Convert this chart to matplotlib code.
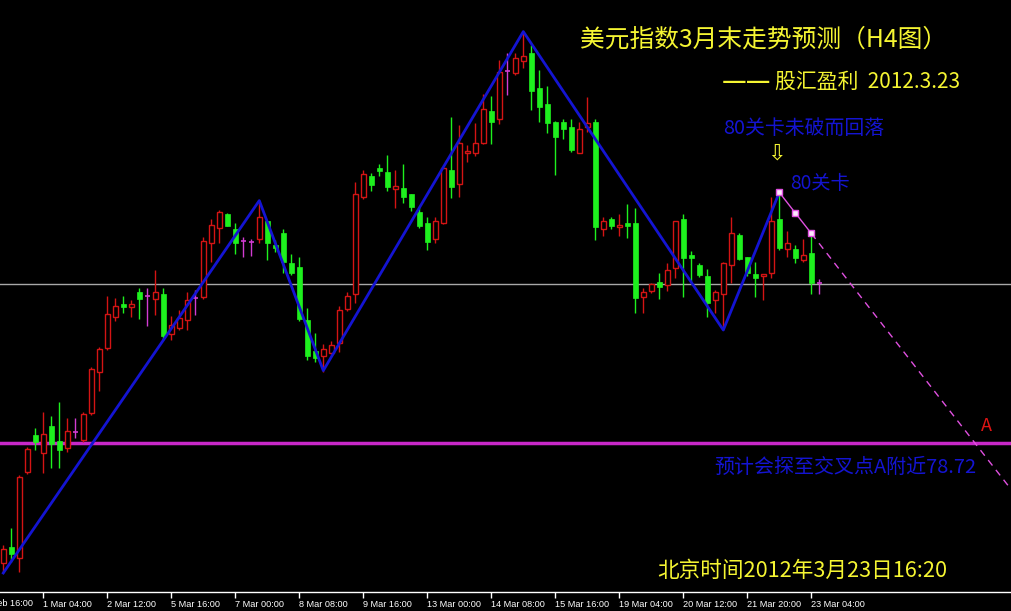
import numpy as np
import matplotlib
matplotlib.use("Agg")
import matplotlib.pyplot as plt

plt.rcParams['font.family'] = ['Noto Sans CJK SC', 'DejaVu Sans']

# H4 bars of the dollar index, oldest first (open, high, low, close)
opens = [78.135, 78.217, 78.16, 78.588, 78.775, 78.683, 78.82, 78.745, 78.71, 78.79,
         78.75, 78.887, 79.09, 79.21, 79.367, 79.43, 79.417, 79.49, 79.469, 79.457,
         79.48, 79.28, 79.31, 79.348, 79.458, 79.463, 79.733, 79.812, 79.88, 79.805,
         79.743, 79.738, 79.753, 79.843, 79.724, 79.783, 79.633, 79.613, 79.35, 79.195,
         79.172, 79.183, 79.233, 79.407, 79.48, 79.967, 80.07, 80.11, 80.09, 80.007,
         80.008, 79.98, 79.89, 79.837, 79.753, 79.833, 80.10, 80.028, 80.183, 80.183,
         80.237, 80.397, 80.353, 80.597, 80.583, 80.647, 80.683, 80.508, 80.43, 80.342,
         80.342, 80.313, 80.187, 80.313, 80.342, 79.803, 79.855, 79.813, 79.833, 79.833,
         79.467, 79.497, 79.542, 79.525, 79.612, 79.853, 79.675, 79.625, 79.57, 79.45,
         79.478, 79.625, 79.775, 79.663, 79.58, 79.57, 79.583, 79.855, 79.703, 79.703,
         79.65, 79.683, 79.533]
highs = [78.225, 78.31, 78.575, 78.717, 78.81, 78.888, 78.87, 78.94, 78.86, 78.86,
         78.89, 79.115, 79.217, 79.47, 79.458, 79.47, 79.45, 79.51, 79.51, 79.60,
         79.51, 79.37, 79.40, 79.49, 79.50, 79.767, 79.853, 79.90, 79.885, 79.837,
         79.763, 79.753, 79.947, 79.845, 79.75, 79.803, 79.68, 79.663, 79.408, 79.283,
         79.228, 79.247, 79.42, 79.49, 80.04, 80.10, 80.083, 80.13, 80.175, 80.10,
         80.13, 79.98, 79.917, 79.867, 79.863, 80.11, 80.363, 80.323, 80.223, 80.333,
         80.48, 80.47, 80.65, 80.687, 80.683, 80.792, 80.725, 80.60, 80.52, 80.345,
         80.353, 80.353, 80.342, 80.467, 80.353, 79.863, 79.867, 79.88, 79.93, 79.908,
         79.508, 79.537, 79.583, 79.637, 79.845, 79.88, 79.695, 79.633, 79.603, 79.50,
         79.642, 79.867, 79.783, 79.665, 79.642, 79.58, 79.967, 79.988, 79.795, 79.725,
         79.753, 79.783, 79.553]
lows = [78.085, 78.14, 78.09, 78.58, 78.70, 78.583, 78.61, 78.61, 78.69, 78.76,
        78.74, 78.877, 78.997, 79.20, 79.347, 79.387, 79.367, 79.355, 79.322, 79.377,
        79.25, 79.25, 79.30, 79.30, 79.375, 79.455, 79.642, 79.733, 79.82, 79.68,
        79.663, 79.672, 79.733, 79.65, 79.692, 79.587, 79.575, 79.347, 79.15, 79.142,
        79.092, 79.18, 79.192, 79.397, 79.437, 79.955, 79.995, 80.07, 79.997, 79.908,
        79.937, 79.897, 79.81, 79.70, 79.733, 79.83, 79.958, 79.967, 80.142, 80.17,
        80.23, 80.23, 80.33, 80.475, 80.575, 80.608, 80.40, 80.342, 80.283, 80.075,
        80.253, 80.192, 80.183, 80.292, 79.75, 79.77, 79.803, 79.77, 79.758, 79.387,
        79.387, 79.487, 79.453, 79.497, 79.558, 79.467, 79.547, 79.567, 79.367, 79.383,
        79.30, 79.533, 79.65, 79.57, 79.467, 79.45, 79.558, 79.70, 79.663, 79.633,
        79.642, 79.478, 79.478]
closes = [78.205, 78.18, 78.565, 78.705, 78.74, 78.78, 78.73, 78.70, 78.795, 78.79,
          78.88, 79.105, 79.205, 79.378, 79.42, 79.415, 79.43, 79.457, 79.469, 79.488,
          79.27, 79.323, 79.36, 79.45, 79.458, 79.745, 79.825, 79.888, 79.822, 79.733,
          79.743, 79.738, 79.863, 79.733, 79.71, 79.642, 79.587, 79.355, 79.172, 79.162,
          79.203, 79.223, 79.40, 79.47, 79.98, 80.08, 80.025, 80.095, 80.017, 80.02,
          79.967, 79.917, 79.82, 79.742, 79.845, 80.108, 80.017, 80.233, 80.195, 80.233,
          80.405, 80.342, 80.592, 80.597, 80.658, 80.67, 80.497, 80.417, 80.333, 80.263,
          80.303, 80.20, 80.303, 80.333, 79.813, 79.845, 79.822, 79.827, 79.82, 79.458,
          79.488, 79.528, 79.517, 79.60, 79.845, 79.662, 79.662, 79.575, 79.437, 79.488,
          79.633, 79.783, 79.653, 79.583, 79.558, 79.58, 79.845, 79.712, 79.733, 79.662,
          79.675, 79.537, 79.533]

tick_bars = [5, 13, 21, 29, 37, 45, 53, 61, 69, 77, 85, 93, 101]
tick_labels = ["1 Mar 04:00", "2 Mar 12:00", "5 Mar 16:00", "7 Mar 00:00",
               "8 Mar 08:00", "9 Mar 16:00", "13 Mar 00:00", "14 Mar 08:00",
               "15 Mar 16:00", "19 Mar 04:00", "20 Mar 12:00", "21 Mar 20:00",
               "23 Mar 04:00"]

# zigzag turning points (bar, price)
zz_bars = [0, 32, 40, 65, 90, 97]
zz_prices = [78.085, 79.947, 79.097, 80.792, 79.30, 79.988]

# projected path after the 80 test
proj_bars = [97, 99, 101]
proj_prices = [79.988, 79.885, 79.783]

level_grey = 79.53
level_target = 78.735

BG = 'black'
UP = '#D41414'
DOWN = '#1EF01E'
DOJI = '#D23CD2'
YELLOW = '#F5F532'
BLUE = '#1414D2'

fig = plt.figure(figsize=(10.11, 6.11), dpi=100, facecolor=BG)
ax = fig.add_axes([0, 19 / 611, 1, 592 / 611], facecolor=BG)

x = np.arange(len(opens))
o = np.array(opens)
h = np.array(highs)
l = np.array(lows)
c = np.array(closes)

up = c > o
dn = c < o
dj = c == o

ax.vlines(x[~dj], l[~dj], h[~dj], colors=np.where(up[~dj], UP, DOWN), lw=1, zorder=2)
ax.bar(x[up], c[up] - o[up], bottom=o[up], width=0.6, facecolor=BG,
       edgecolor=UP, linewidth=1, zorder=3)
ax.bar(x[dn], o[dn] - c[dn], bottom=c[dn], width=0.6, facecolor=DOWN,
       edgecolor=DOWN, linewidth=0.5, zorder=3)
ax.vlines(x[dj], l[dj], h[dj], colors=DOJI, lw=1, zorder=3)
ax.hlines(o[dj], x[dj] - 0.3, x[dj] + 0.3, colors=DOJI, lw=1.2, zorder=3)

ax.axhline(level_grey, color='#A8A8A8', lw=1, zorder=1)
ax.axhline(level_target, color='#C828C8', lw=2.5, zorder=1)

ax.plot(zz_bars, zz_prices, color=BLUE, lw=2, zorder=4)

# projection: solid through the marked points, dashed beyond
xmin, xmax = -0.41, 125.96
k, b = np.polyfit(proj_bars, proj_prices, 1)
ax.plot(proj_bars, proj_prices, color='#E050E0', lw=1, zorder=5)
ax.plot([proj_bars[-1], xmax], [proj_prices[-1], k * xmax + b], color='#E050E0',
        lw=1, ls=(0, (5, 4)), zorder=5)
ax.plot(proj_bars, proj_prices, ls='none', marker='s', ms=4.5, mfc='#FFE8FF',
        mec='#E050E0', mew=1, zorder=6)

ax.set_xlim(xmin, xmax)
ax.set_ylim(80.95 - 592 * 0.005, 80.95)

for s in ['top', 'left', 'right']:
    ax.spines[s].set_visible(False)
ax.spines['bottom'].set_color('white')
ax.spines['bottom'].set_linewidth(1)
ax.set_yticks([])
ax.set_xticks(tick_bars)
ax.set_xticklabels(tick_labels, ha='left', family='Liberation Sans')
ax.tick_params(axis='x', colors='white', length=4, width=1, labelsize=6.6, pad=1.5)
ax.text(-3, -0.0115, "29 Feb 16:00", transform=ax.get_xaxis_transform(),
        color='white', fontsize=6.6, family='Liberation Sans', ha='left', va='top',
        clip_on=False)

def put(px, py, s, **kw):
    fig.text(px / 1011, 1 - py / 611, s, va='center', **kw)

put(580, 40, "美元指数3月末走势预测（H4图）", color=YELLOW, fontsize=17.8)
put(722, 82, "——", color=YELLOW, fontsize=20)
put(775, 82, "股汇盈利  2012.3.23", color=YELLOW, fontsize=15)
put(723, 129, "80关卡未破而回落", color=BLUE, fontsize=14.3)
put(777, 154, "⇩", color=YELLOW, fontsize=16, ha='center', family='DejaVu Sans')
put(790, 184, "80关卡", color=BLUE, fontsize=13.8)
put(986, 426, "A", color='#E01414', fontsize=13, ha='center')
put(714, 467, "预计会探至交叉点A附近78.72", color=BLUE, fontsize=14.4)
put(657, 571, "北京时间2012年3月23日16:20", color=YELLOW, fontsize=15.6)

fig.savefig("out.png", dpi=100, facecolor=BG)
